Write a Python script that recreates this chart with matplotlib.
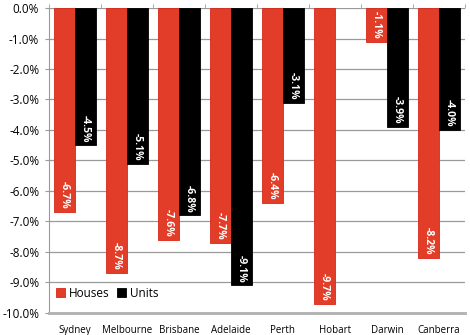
import matplotlib.pyplot as plt
import numpy as np

cities = ["Sydney", "Melbourne", "Brisbane", "Adelaide", "Perth", "Hobart", "Darwin", "Canberra"]
houses = [-6.7, -8.7, -7.6, -7.7, -6.4, -9.7, -1.1, -8.2]
units = [-4.5, -5.1, -6.8, -9.1, -3.1, np.nan, -3.9, -4.0]

red = "#e23d28"
grid_gray = "#9a9a9a"

plt.rcParams["font.family"] = ["Open Sans", "DejaVu Sans"]

fig = plt.figure(figsize=(4.7, 3.35), dpi=100)
ax = fig.add_axes([0.104, 0.066, 0.885, 0.910])

x = np.arange(len(cities))
w = 0.41
ax.bar(x - w / 2, houses, w, color=red, edgecolor="#d8281a", linewidth=0.6, label="Houses", zorder=3)
ax.bar(x + w / 2, units, w, color="black", edgecolor="black", linewidth=0.6, label="Units", zorder=3)

# value labels written downwards inside each bar
for xs, vals in ((x - w / 2, houses), (x + w / 2, units)):
    for xi, v in zip(xs, vals):
        if np.isnan(v):
            continue
        ax.text(xi, v + 0.1, f"{v:.1f}%", rotation=270, ha="center", va="bottom",
                color="white", fontsize=7.5, fontweight="bold", zorder=4)

ax.set_xlim(-0.5, len(cities) - 0.5)
ax.set_ylim(-10, 0)
ax.set_yticks(np.arange(-10, 0.1, 1))
ax.set_yticklabels([f"{t:.1f}%" for t in np.arange(-10, 0.1, 1)], fontsize=8.5)
ax.set_xticks(x)
ax.set_xticklabels(cities, fontsize=7)
ax.set_xticks(np.arange(-0.5, len(cities), 1), minor=True)
ax.tick_params(axis="x", which="major", length=0, pad=9)
ax.tick_params(axis="x", which="minor", top=True, bottom=False, length=3, color=grid_gray, direction="out")
ax.tick_params(axis="y", length=3, color=grid_gray, pad=4)

ax.yaxis.grid(True, color=grid_gray, linewidth=0.9, zorder=0)
for side in ("top", "right"):
    ax.spines[side].set_visible(False)
ax.spines["left"].set_color(grid_gray)
ax.spines["bottom"].set_color("#b0b0b0")
ax.spines["bottom"].set_linewidth(2)

ax.legend(loc="lower left", bbox_to_anchor=(0.0, 0.02), ncol=2, frameon=False, fontsize=8.5,
          handlelength=0.8, handleheight=0.8, handletextpad=0.3, columnspacing=0.6, borderaxespad=0.2)

fig.savefig("out.png", dpi=100)
